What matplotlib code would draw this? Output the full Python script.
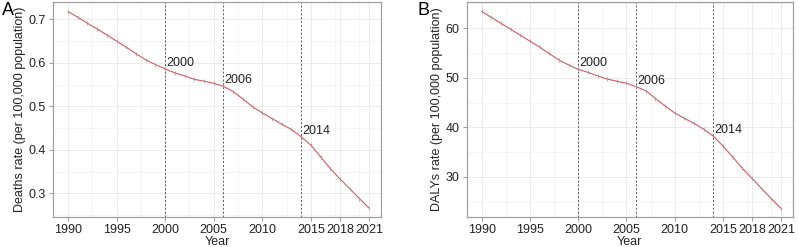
import matplotlib
matplotlib.use("Agg")
import matplotlib.pyplot as plt
from matplotlib.ticker import MultipleLocator

plt.rcParams['font.family'] = ['Liberation Sans', 'DejaVu Sans']

years = list(range(1990, 2022))
deaths_rate = [0.718, 0.705, 0.691, 0.678, 0.664, 0.650, 0.636, 0.621, 0.607, 0.596,
               0.586, 0.577, 0.570, 0.562, 0.558, 0.553, 0.546, 0.534, 0.517, 0.499,
               0.485, 0.472, 0.459, 0.447, 0.430, 0.411, 0.384, 0.357, 0.333, 0.311,
               0.288, 0.266]
dalys_rate = [63.4, 62.2, 61.0, 59.8, 58.6, 57.4, 56.2, 54.9, 53.6, 52.6,
              51.7, 51.1, 50.4, 49.75, 49.3, 48.9, 48.2, 47.4, 45.8, 44.3,
              42.9, 41.8, 40.8, 39.6, 38.2, 36.2, 34.0, 31.7, 29.7, 27.6,
              25.6, 23.6]
joinpoints = [2000, 2006, 2014]
xticks = [1990, 1995, 2000, 2005, 2010, 2015, 2018, 2021]

fig = plt.figure(figsize=(7.99, 2.47), dpi=100)
axA = fig.add_axes([0.0663, 0.1215, 0.4107, 0.8705])
axB = fig.add_axes([0.584, 0.1215, 0.4085, 0.8705])


def draw(ax, vals, ylabel, ylim, ymajor, yminor):
    ax.set_xlim(1988.45, 2022.24)
    ax.set_ylim(*ylim)
    ax.yaxis.set_major_locator(MultipleLocator(ymajor))
    ax.yaxis.set_minor_locator(MultipleLocator(yminor))
    ax.set_xticks(xticks)
    ax.xaxis.set_minor_locator(MultipleLocator(2.5))
    ax.grid(which='major', color='#e8e8e8', linewidth=0.6)
    ax.grid(which='minor', color='#f2f2f2', linewidth=0.5)
    ax.set_axisbelow(True)
    for s in ax.spines.values():
        s.set_color('#a0a0a0')
        s.set_linewidth(0.9)
    ax.tick_params(which='major', length=3, color='#a0a0a0', labelsize=9,
                   labelcolor='#222222', pad=2)
    ax.tick_params(which='minor', length=0)
    for jp in joinpoints:
        ax.axvline(jp, color='#555555', linestyle=(0, (2, 2)), linewidth=0.7)
    ax.plot(years, vals, color='#cf5a62', linewidth=0.8, marker='|',
            markersize=2.5, markeredgewidth=0.5, markeredgecolor='#999999')
    for jp in joinpoints:
        v = vals[years.index(jp)]
        ax.text(jp + 0.1, v, str(jp), fontsize=9, color='#222222',
                ha='left', va='bottom')
    ax.set_xlabel('Year', fontsize=9, labelpad=0, color='#222222')
    ax.set_ylabel(ylabel, fontsize=9, labelpad=2, color='#222222')


draw(axA, deaths_rate, 'Deaths rate (per 100,000 population)', (0.2455, 0.74), 0.1, 0.05)
draw(axB, dalys_rate, 'DALYs rate (per 100,000 population)', (21.9, 65.3), 10, 5)

fig.text(0.002, 0.99, 'A', fontsize=13, va='top', ha='left')
fig.text(0.522, 0.99, 'B', fontsize=13, va='top', ha='left')

fig.savefig('out.png', dpi=100)
